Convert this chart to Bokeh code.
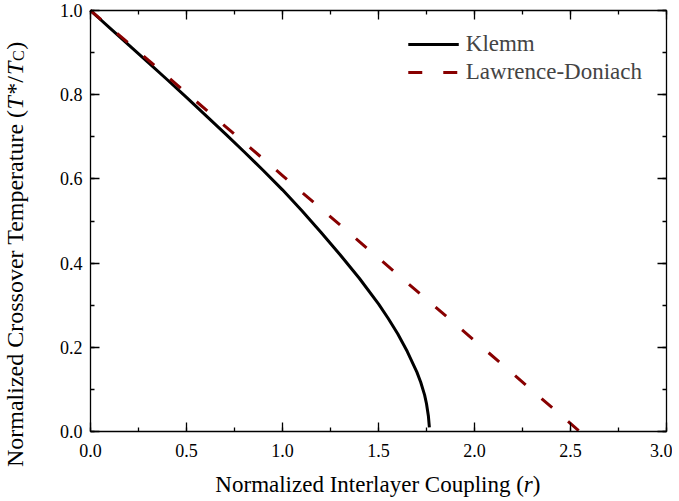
import math
from bokeh.plotting import figure
from bokeh.models import (LinearAxis, SingleIntervalTicker, PrintfTickFormatter,
                          CustomJSTickFormatter, Label, Legend, LegendItem, Range1d)
from bokeh.embed import file_html
from bokeh.resources import INLINE

# ---- data ----
klemm_r = [0, 0.1, 0.2, 0.3, 0.4, 0.5, 0.6, 0.7, 0.8, 0.9, 1.0, 1.1, 1.2, 1.3,
           1.4, 1.5, 1.55, 1.6, 1.65, 1.7, 1.72, 1.74, 1.75, 1.76, 1.765]
klemm_t = [1.0, 0.959, 0.918, 0.877, 0.8355, 0.7935, 0.751, 0.708, 0.6645,
           0.620, 0.574, 0.525, 0.4735, 0.420, 0.364, 0.303, 0.269, 0.232,
           0.190, 0.141, 0.117, 0.087, 0.066, 0.036, 0.010]
ld_r = [0.0, 0.5, 1.0, 1.5, 2.0, 2.548]
ld_t = [1.0, 0.804, 0.608, 0.412, 0.216, 0.0]
series_names = ["Klemm", "Lawrence-Doniach"]
x_lim = (0, 3)
y_lim = (0, 1)

FONT = "Liberation Serif"
DARKRED = "#880000"

W, H = 672, 499
# pixel geometry of the data box inside the canvas
LEFT, RIGHT, TOP, BOTTOM = 90, 666, 10, 431
sx = (RIGHT - LEFT) / (x_lim[1] - x_lim[0])
sy = (BOTTOM - TOP) / (y_lim[1] - y_lim[0])
xr = Range1d(x_lim[0] - LEFT / sx, x_lim[1] + (W - RIGHT) / sx)
yr = Range1d(y_lim[0] - (H - BOTTOM) / sy, y_lim[1] + TOP / sy)

p = figure(width=W, height=H, x_range=xr, y_range=yr,
           output_backend="svg", toolbar_location=None,
           x_axis_type=None, y_axis_type=None,
           min_border=0, min_border_left=0, min_border_right=0,
           min_border_top=0, min_border_bottom=0)
p.grid.visible = False
p.outline_line_color = None
p.background_fill_color = "white"
p.border_fill_color = "white"

def make_axis(interval, loc, bounds, show_labels):
    fmt = (PrintfTickFormatter(format="%.1f") if show_labels
           else CustomJSTickFormatter(code="return '';"))
    ax = LinearAxis(ticker=SingleIntervalTicker(interval=interval, num_minor_ticks=2),
                    formatter=fmt, fixed_location=loc, bounds=bounds)
    ax.major_tick_in = 9
    ax.major_tick_out = 0
    ax.minor_tick_in = 4
    ax.minor_tick_out = 0
    ax.axis_line_color = "black"
    ax.axis_line_width = 1.3
    ax.major_tick_line_color = "black"
    ax.major_tick_line_width = 1.3
    ax.minor_tick_line_color = "black"
    ax.minor_tick_line_width = 1.3
    ax.major_label_text_font = FONT
    ax.major_label_text_color = "black"
    ax.major_label_text_font_size = "18px"
    if not show_labels:
        ax.major_label_standoff = 0
    return ax

bottom_ax = make_axis(0.5, y_lim[0], x_lim, True)
bottom_ax.major_label_standoff = 12
p.add_layout(bottom_ax, "below")
left_ax = make_axis(0.2, x_lim[0], y_lim, True)
left_ax.major_label_standoff = 8
p.add_layout(left_ax, "left")
top_ax = make_axis(0.5, y_lim[1], x_lim, False)
p.add_layout(top_ax, "above")
right_ax = make_axis(0.2, x_lim[1], y_lim, False)
p.add_layout(right_ax, "right")

r1 = p.line(klemm_r, klemm_t, line_color="black", line_width=3)
r2 = p.line(ld_r, ld_t, line_color=DARKRED, line_width=3, line_dash="14 21")

legend = Legend(items=[LegendItem(label=series_names[0], renderers=[r1]),
                       LegendItem(label=series_names[1], renderers=[r2])],
                location="top_right")
legend.border_line_alpha = 0
legend.background_fill_alpha = 0
legend.label_text_font = FONT
legend.label_text_font_size = "23px"
legend.glyph_width = 51
legend.glyph_height = 28
legend.label_height = 28
legend.label_standoff = 7
legend.spacing = 0
legend.padding = 5
legend.margin = 25
p.add_layout(legend)

def lab(x, y, text, size="23px", style="normal", angle=0.0):
    p.add_layout(Label(x=x, y=y, text=text, angle=angle, text_font=FONT,
                       text_font_size=size, text_font_style=style,
                       text_align="left", text_baseline="alphabetic",
                       text_color="black"))

# ---- x-axis title ----
xl_y = -0.1259
p.add_layout(Label(x=2.257, y=xl_y, text="Normalized Interlayer Coupling (",
                   text_font=FONT, text_font_size="23px", text_align="right",
                   text_baseline="alphabetic", text_color="black"))
lab(2.257, xl_y, "r", style="italic")
lab(2.304, xl_y, ")")

# ---- y-axis title (rotated) ----
yl_x = -0.3957
ang = math.pi / 2
p.add_layout(Label(x=yl_x, y=0.7648, text="Normalized Crossover Temperature (",
                   angle=ang, text_font=FONT, text_font_size="24px",
                   text_align="right", text_baseline="alphabetic", text_color="black"))
lab(yl_x, 0.7648, "T", size="24px", style="italic", angle=ang)
lab(yl_x, 0.800, "*/", size="24px", angle=ang)
lab(yl_x, 0.847, "T", size="24px", style="italic", angle=ang)
lab(-0.375, 0.880, "C", size="16px", angle=ang)
lab(yl_x, 0.907, ")", size="24px", angle=ang)

open("out.html", "w").write(file_html(p, INLINE))
